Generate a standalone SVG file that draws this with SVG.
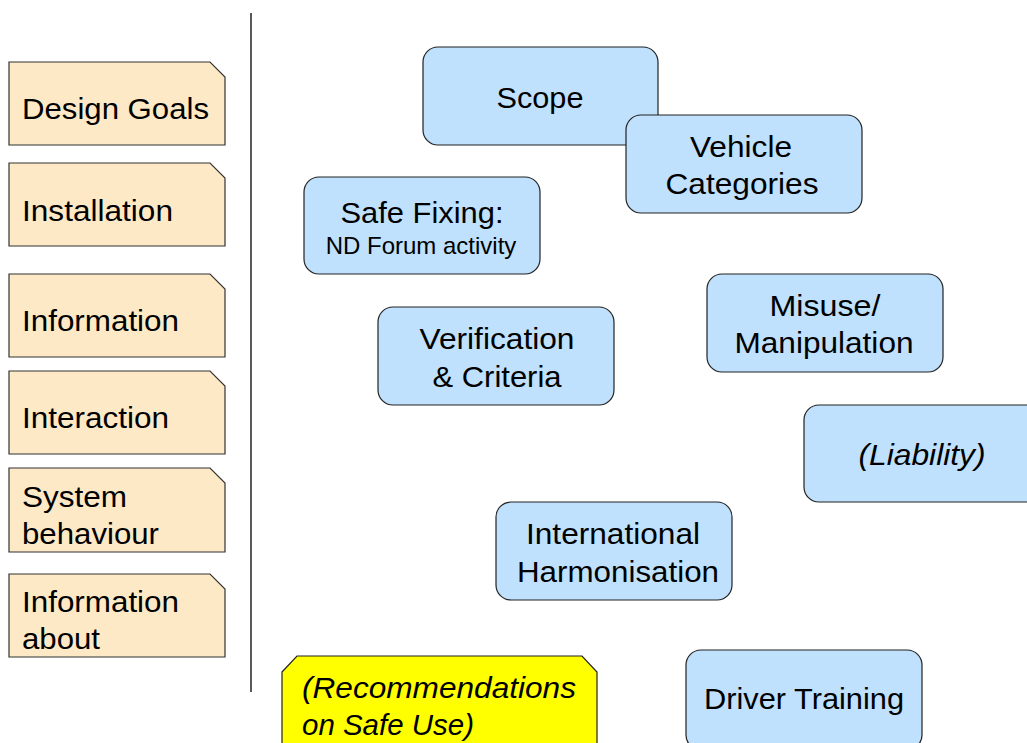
<svg xmlns="http://www.w3.org/2000/svg" width="1027" height="743" viewBox="0 0 1027 743">
  <style>
    text { font-family: "Liberation Sans", Arial, sans-serif; font-size: 29px; fill: #000; }
    .tab { fill: #FDE9C6; stroke: #333; stroke-width: 1.2; }
    .topic { fill: #BFE1FD; stroke: #222; stroke-width: 1.2; }
    .note { fill: #FFFF00; stroke: #222; stroke-width: 1.2; }
    .c { text-anchor: middle; }
    .i { font-style: italic; }
    .small { font-size: 24px; }
  </style>
  <rect width="1027" height="743" fill="#fff"/>

  <!-- divider between the tab column and the topic area -->
  <g id="connectors">
    <line x1="251" y1="13" x2="251" y2="692" stroke="#000" stroke-width="1.3"/>
  </g>

  <!-- tab column -->
  <g id="tab-design-goals">
    <path class="tab" d="M9,62 H210 L225,77 V145 H9 Z"/>
    <text x="22" y="119" textLength="187" lengthAdjust="spacingAndGlyphs">Design Goals</text>
  </g>
  <g id="tab-installation">
    <path class="tab" d="M9,163 H210 L225,178 V246 H9 Z"/>
    <text x="22" y="221" textLength="151" lengthAdjust="spacingAndGlyphs">Installation</text>
  </g>
  <g id="tab-information">
    <path class="tab" d="M9,274 H210 L225,289 V357 H9 Z"/>
    <text x="22" y="331" textLength="157" lengthAdjust="spacingAndGlyphs">Information</text>
  </g>
  <g id="tab-interaction">
    <path class="tab" d="M9,371 H210 L225,386 V454 H9 Z"/>
    <text x="22" y="428" textLength="147" lengthAdjust="spacingAndGlyphs">Interaction</text>
  </g>
  <g id="tab-system-behaviour">
    <path class="tab" d="M9,468 H210 L225,483 V552 H9 Z"/>
    <text x="22" y="507" textLength="105" lengthAdjust="spacingAndGlyphs">System</text>
    <text x="22" y="544" textLength="137" lengthAdjust="spacingAndGlyphs">behaviour</text>
  </g>
  <g id="tab-information-about">
    <path class="tab" d="M9,574 H210 L225,589 V657 H9 Z"/>
    <text x="22" y="612" textLength="157" lengthAdjust="spacingAndGlyphs">Information</text>
    <text x="22" y="649" textLength="78" lengthAdjust="spacingAndGlyphs">about</text>
  </g>

  <!-- topic boxes -->
  <g id="topic-scope">
    <rect class="topic" x="423" y="47" width="235" height="98" rx="15"/>
    <text class="c" x="540" y="108" textLength="87" lengthAdjust="spacingAndGlyphs">Scope</text>
  </g>
  <g id="topic-vehicle-categories">
    <rect class="topic" x="626" y="115" width="236" height="98" rx="15"/>
    <text class="c" x="741" y="157" textLength="102" lengthAdjust="spacingAndGlyphs">Vehicle</text>
    <text class="c" x="742" y="194" textLength="153" lengthAdjust="spacingAndGlyphs">Categories</text>
  </g>
  <g id="topic-safe-fixing">
    <rect class="topic" x="304" y="177" width="236" height="97" rx="15"/>
    <text class="c" x="422" y="223" textLength="163" lengthAdjust="spacingAndGlyphs">Safe Fixing:</text>
    <text class="c small" x="421" y="254">ND Forum activity</text>
  </g>
  <g id="topic-misuse">
    <rect class="topic" x="707" y="274" width="236" height="98" rx="15"/>
    <text class="c" x="825" y="316" textLength="111" lengthAdjust="spacingAndGlyphs">Misuse/</text>
    <text class="c" x="824" y="353" textLength="179" lengthAdjust="spacingAndGlyphs">Manipulation</text>
  </g>
  <g id="topic-verification">
    <rect class="topic" x="378" y="307" width="236" height="98" rx="15"/>
    <text class="c" x="497" y="349" textLength="155" lengthAdjust="spacingAndGlyphs">Verification</text>
    <text class="c" x="497" y="387" textLength="129" lengthAdjust="spacingAndGlyphs">&amp; Criteria</text>
  </g>
  <g id="topic-liability">
    <rect class="topic" x="804" y="405" width="240" height="97" rx="15"/>
    <text class="c i" x="922" y="465" textLength="127" lengthAdjust="spacingAndGlyphs">(Liability)</text>
  </g>
  <g id="topic-international">
    <rect class="topic" x="496" y="502" width="236" height="98" rx="15"/>
    <text class="c" x="613" y="544" textLength="174" lengthAdjust="spacingAndGlyphs">International</text>
    <text class="c" x="618" y="582" textLength="202" lengthAdjust="spacingAndGlyphs">Harmonisation</text>
  </g>
  <g id="topic-driver-training">
    <rect class="topic" x="686" y="650" width="236" height="100" rx="15"/>
    <text class="c" x="804" y="709" textLength="200" lengthAdjust="spacingAndGlyphs">Driver Training</text>
  </g>

  <!-- highlighted note -->
  <g id="note-recommendations">
    <path class="note" d="M282,672 L297,656 H582 L597,672 V760 H282 Z"/>
    <text class="i" x="302" y="698" textLength="274" lengthAdjust="spacingAndGlyphs">(Recommendations</text>
    <text class="i" x="302" y="735" textLength="172" lengthAdjust="spacingAndGlyphs">on Safe Use)</text>
  </g>
</svg>
